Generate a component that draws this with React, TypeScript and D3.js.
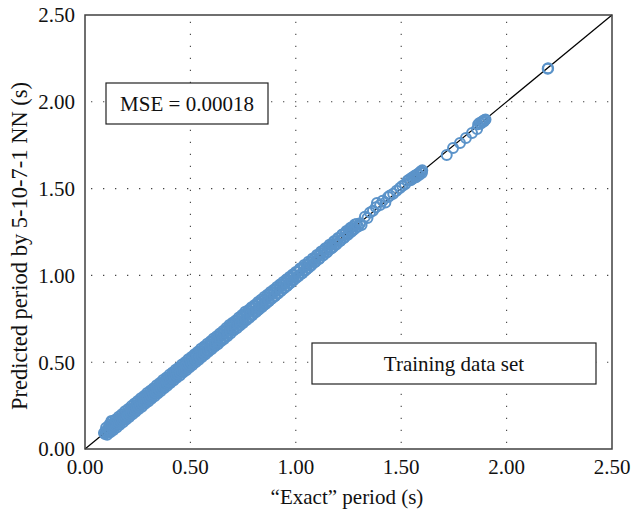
import React from "react";
import * as d3 from "d3";

// [exact period (s), predicted period (s)] — core of the band
const trainingPoints: [number, number][] = [
  [0.090,0.092],[0.095,0.086],[0.100,0.104],[0.104,0.096],[0.108,0.114],[0.112,0.104],[0.115,0.121],[0.118,0.110],[0.122,0.130],[0.125,0.162],
  [0.128,0.119],[0.131,0.137],[0.134,0.127],[0.138,0.148],[0.141,0.134],[0.145,0.152],[0.148,0.140],[0.152,0.160],[0.155,0.147],[0.159,0.168],
  [0.162,0.154],[0.166,0.174],[0.170,0.161],[0.174,0.182],[0.178,0.169],[0.182,0.190],[0.186,0.176],[0.190,0.198],[0.194,0.184],[0.198,0.206],
  [0.202,0.193],[0.206,0.215],[0.210,0.201],[0.215,0.223],[0.219,0.209],[0.223,0.232],[0.228,0.217],[0.232,0.241],[0.236,0.226],[0.241,0.249],
  [0.245,0.235],[0.250,0.258],[0.254,0.244],[0.259,0.268],[0.263,0.253],[0.268,0.278],[0.272,0.261],[0.277,0.287],[0.281,0.270],[0.285,0.302],
  [0.290,0.280],[0.294,0.303],[0.299,0.289],[0.303,0.312],[0.308,0.297],[0.312,0.320],[0.317,0.306],[0.321,0.330],[0.326,0.314],[0.330,0.339],
  [0.335,0.324],[0.339,0.348],[0.344,0.333],[0.348,0.357],[0.353,0.341],[0.357,0.366],[0.362,0.350],[0.366,0.375],[0.371,0.359],[0.375,0.385],
  [0.380,0.368],[0.384,0.394],[0.389,0.378],[0.393,0.403],[0.398,0.387],[0.402,0.412],[0.407,0.396],[0.411,0.422],[0.416,0.405],[0.420,0.430],
  [0.425,0.414],[0.429,0.440],[0.434,0.423],[0.438,0.448],[0.443,0.432],[0.447,0.458],[0.452,0.440],[0.456,0.467],[0.461,0.450],[0.465,0.476],
  [0.470,0.458],[0.474,0.486],[0.479,0.468],[0.483,0.494],[0.488,0.477],[0.492,0.504],[0.497,0.486],[0.501,0.512],[0.506,0.495],[0.510,0.522],
  [0.515,0.503],[0.520,0.532],[0.525,0.512],[0.530,0.541],[0.535,0.522],[0.540,0.552],[0.545,0.532],[0.550,0.562],[0.555,0.542],[0.560,0.573],
  [0.565,0.551],[0.570,0.583],[0.575,0.561],[0.580,0.592],[0.585,0.571],[0.590,0.602],[0.596,0.581],[0.602,0.613],[0.608,0.592],
  [0.612,0.624],[0.618,0.603],[0.624,0.634],[0.630,0.616],[0.636,0.647],[0.642,0.628],[0.648,0.658],[0.654,0.640],[0.660,0.670],[0.666,0.652],
  [0.672,0.684],[0.678,0.666],[0.684,0.702],[0.690,0.682],[0.696,0.714],[0.702,0.694],[0.708,0.722],[0.714,0.703],[0.720,0.734],[0.726,0.714],
  [0.732,0.746],[0.738,0.726],[0.744,0.760],[0.750,0.738],[0.756,0.770],[0.762,0.750],[0.768,0.787],[0.775,0.760],[0.782,0.797],[0.789,0.774],
  [0.796,0.810],[0.803,0.788],[0.810,0.820],[0.817,0.798],[0.824,0.834],[0.831,0.813],[0.838,0.848],[0.845,0.826],[0.852,0.860],[0.859,0.840],
  [0.866,0.874],[0.873,0.853],[0.880,0.888],[0.887,0.868],[0.894,0.902],[0.901,0.882],[0.908,0.917],[0.915,0.896],[0.922,0.930],[0.929,0.910],
  [0.936,0.944],[0.943,0.924],[0.950,0.958],[0.957,0.938],[0.964,0.972],[0.971,0.953],[0.978,0.987],[0.985,0.968],[0.992,1.000],[1.000,0.983],
  [1.008,1.020],[1.015,0.998],[1.022,1.032],[1.030,1.013],[1.038,1.048],
  [1.045,1.030],[1.052,1.060],[1.060,1.044],[1.068,1.075],[1.076,1.062],[1.085,1.090],[1.094,1.080],[1.103,1.110],[1.112,1.098],[1.120,1.128],
  [1.128,1.114],[1.136,1.146],[1.145,1.130],[1.153,1.162],[1.162,1.150],[1.170,1.178],[1.178,1.165],[1.186,1.196],[1.195,1.182],[1.203,1.212],
  [1.212,1.200],[1.220,1.232],[1.228,1.215],[1.236,1.246],[1.245,1.232],[1.254,1.266],[1.262,1.250],[1.270,1.280],[1.280,1.268],[1.288,1.296],
  [1.296,1.282],[1.305,1.300],[1.312,1.290],
  [1.328,1.338],[1.340,1.330],[1.352,1.362],[1.366,1.372],[1.385,1.417],[1.380,1.392],[1.400,1.405],[1.412,1.430],[1.425,1.420],[1.438,1.452],
  [1.447,1.460],[1.462,1.470],[1.478,1.488],[1.494,1.503],[1.505,1.515],[1.518,1.525],
  [1.530,1.545],[1.538,1.552],[1.545,1.548],[1.550,1.562],[1.556,1.558],[1.560,1.570],[1.566,1.575],[1.570,1.566],[1.575,1.580],[1.580,1.586],
  [1.585,1.578],[1.590,1.594],[1.594,1.600],[1.598,1.590],[1.600,1.605],
  [1.716,1.693],[1.746,1.734],[1.779,1.763],[1.807,1.791],[1.836,1.820],[1.860,1.843],
  [1.865,1.870],[1.872,1.878],[1.878,1.875],[1.883,1.884],[1.888,1.890],[1.892,1.886],[1.896,1.895],[1.900,1.898],
  [2.195,2.190],[2.197,2.193],
];

// points on the upper edge of the band (over-predicted)
const upperPoints: [number, number][] = [
  [0.10,0.122],[0.115,0.140],[0.13,0.158],[0.145,0.170],[0.16,0.186],[0.175,0.200],[0.19,0.218],[0.205,0.230],[0.22,0.247],[0.235,0.262],
  [0.25,0.276],[0.265,0.292],[0.28,0.305],[0.295,0.322],[0.31,0.336],[0.325,0.350],[0.34,0.367],[0.355,0.380],[0.37,0.397],[0.385,0.410],
  [0.40,0.427],[0.415,0.440],[0.43,0.457],[0.445,0.470],[0.46,0.487],[0.475,0.500],[0.49,0.517],[0.505,0.530],[0.52,0.546],[0.535,0.560],
  [0.55,0.577],[0.565,0.590],[0.58,0.606],[0.595,0.620],[0.61,0.637],[0.625,0.650],[0.64,0.666],[0.655,0.680],[0.67,0.697],[0.685,0.715],
  [0.70,0.727],[0.715,0.740],[0.73,0.757],[0.745,0.772],[0.76,0.790],[0.775,0.800],[0.79,0.816],[0.805,0.830],[0.82,0.846],[0.835,0.860],
  [0.85,0.875],[0.865,0.889],[0.88,0.904],[0.895,0.918],[0.91,0.933],[0.925,0.947],[0.94,0.962],[0.955,0.976],[0.97,0.991],[0.985,1.005],
  [1.0,1.020],[1.02,1.040],[1.04,1.060],[1.06,1.078],[1.08,1.098],[1.10,1.117],[1.12,1.137],[1.14,1.156],[1.16,1.176],[1.18,1.196],
  [1.20,1.216],[1.22,1.236],[1.24,1.256],[1.26,1.274],[1.28,1.293],
];

// points on the lower edge of the band (under-predicted)
const lowerPoints: [number, number][] = [
  [0.105,0.082],[0.12,0.096],[0.135,0.110],[0.15,0.124],[0.165,0.140],[0.18,0.154],[0.195,0.170],[0.21,0.184],[0.225,0.200],[0.24,0.214],
  [0.255,0.230],[0.27,0.244],[0.285,0.260],[0.30,0.274],[0.315,0.290],[0.33,0.304],[0.345,0.320],[0.36,0.334],[0.375,0.350],[0.39,0.364],
  [0.405,0.380],[0.42,0.394],[0.435,0.410],[0.45,0.424],[0.465,0.440],[0.48,0.454],[0.495,0.470],[0.51,0.484],[0.525,0.500],[0.54,0.514],
  [0.555,0.530],[0.57,0.544],[0.585,0.560],[0.60,0.574],[0.615,0.590],[0.63,0.604],[0.645,0.620],[0.66,0.634],[0.675,0.650],[0.69,0.666],
  [0.705,0.682],[0.72,0.696],[0.735,0.712],[0.75,0.726],[0.765,0.742],[0.78,0.756],[0.795,0.772],[0.81,0.787],[0.825,0.803],[0.84,0.818],
  [0.855,0.834],[0.87,0.849],[0.885,0.865],[0.90,0.880],[0.915,0.896],[0.93,0.911],[0.945,0.927],[0.96,0.942],[0.975,0.958],[0.99,0.973],
  [1.01,0.993],[1.03,1.013],[1.05,1.034],[1.07,1.054],[1.09,1.075],[1.11,1.095],[1.13,1.116],[1.15,1.136],[1.17,1.157],[1.19,1.177],
  [1.21,1.198],[1.23,1.218],[1.25,1.238],[1.27,1.259],
];

const xTicks = [0, 0.5, 1.0, 1.5, 2.0, 2.5];
const yTicks = [0, 0.5, 1.0, 1.5, 2.0, 2.5];
const mseLabel = "MSE = 0.00018";
const legendLabel = "Training data set";
const xTitle = "\u201CExact\u201D period (s)";
const yTitle = "Predicted period by 5-10-7-1 NN (s)";

const W = 632, H = 515;
const M = { left: 85, right: 612, top: 15, bottom: 449 };
const font = "'Liberation Serif', 'Times New Roman', serif";
const FS = 21;

export default function App() {
  const x = d3.scaleLinear().domain([0, 2.5]).range([M.left, M.right]);
  const y = d3.scaleLinear().domain([0, 2.5]).range([M.bottom, M.top]);
  const fmt = d3.format(".2f");
  const diag = d3.line<number>().x((d) => x(d)).y((d) => y(d))([0, 2.5]) || "";
  const allPoints = [...upperPoints, ...lowerPoints, ...trainingPoints];

  return (
    <svg width={W} height={H} style={{ position: "absolute", left: 0, top: 0, background: "#fff" }}>
      <rect x={0} y={0} width={W} height={H} fill="#fff" />
      {xTicks.slice(1, -1).map((t) => (
        <line key={"gx" + t} x1={x(t)} x2={x(t)} y1={M.bottom - 6} y2={M.top} stroke="#444" strokeWidth={1.1} strokeDasharray="1.3 10.7" />
      ))}
      {yTicks.slice(1, -1).map((t) => (
        <line key={"gy" + t} x1={M.left + 6} x2={M.right} y1={y(t)} y2={y(t)} stroke="#444" strokeWidth={1.1} strokeDasharray="1.3 10.7" />
      ))}
      <path d={diag} stroke="#000" strokeWidth={1.2} fill="none" />
      {allPoints.map((p, i) => (
        <circle key={i} cx={x(p[0])} cy={y(p[1])} r={5} fill="none" stroke="#5b93c9" strokeWidth={2} />
      ))}
      <rect x={M.left} y={M.top} width={M.right - M.left} height={M.bottom - M.top} fill="none" stroke="#404040" strokeWidth={1.5} />
      {yTicks.map((t) => (
        <text key={"ty" + t} x={M.left - 10} y={y(t)} dy="0.35em" textAnchor="end" fontFamily={font} fontSize={FS} fill="#111">
          {fmt(t)}
        </text>
      ))}
      {xTicks.map((t) => (
        <text key={"tx" + t} x={x(t)} y={M.bottom + 25} textAnchor="middle" fontFamily={font} fontSize={FS} fill="#111">
          {fmt(t)}
        </text>
      ))}
      <text x={347} y={504} textAnchor="middle" fontFamily={font} fontSize={FS} fill="#111">
        {xTitle}
      </text>
      <text transform={`translate(27,246) rotate(-90)`} textAnchor="middle" fontFamily={font} fontSize={22.5} fill="#111">
        {yTitle}
      </text>
      <rect x={106} y={83} width={162} height={41} fill="#fff" stroke="#222" strokeWidth={1.2} />
      <text x={187} y={103.5} dy="0.35em" textAnchor="middle" fontFamily={font} fontSize={FS} fill="#111">
        {mseLabel}
      </text>
      <rect x={312} y={343} width={284} height={41} fill="#fff" stroke="#222" strokeWidth={1.2} />
      <text x={454} y={363.5} dy="0.35em" textAnchor="middle" fontFamily={font} fontSize={FS} fill="#111">
        {legendLabel}
      </text>
    </svg>
  );
}
